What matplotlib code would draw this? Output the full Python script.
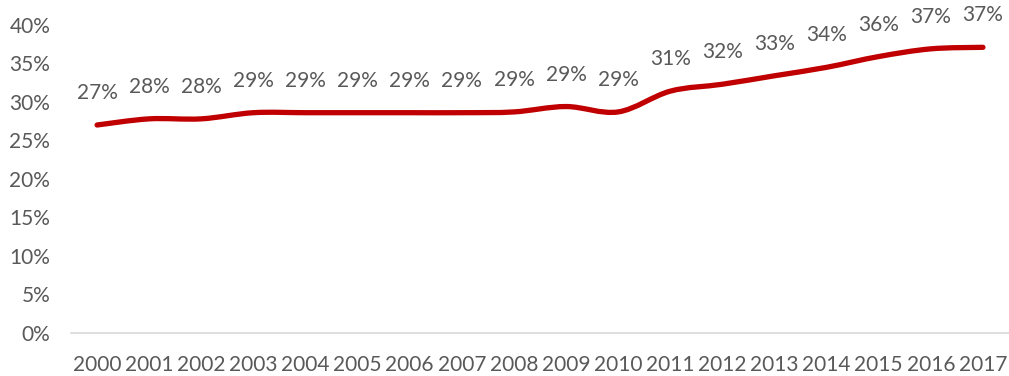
import numpy as np
import matplotlib
matplotlib.use("Agg")
from matplotlib import pyplot as plt
from matplotlib.path import Path
from matplotlib.patches import PathPatch

years = list(range(2000, 2018))
share = [27.0, 27.8, 27.8, 28.6, 28.6, 28.6, 28.6, 28.6, 28.7,
         29.4, 28.7, 31.4, 32.3, 33.4, 34.5, 35.9, 36.9, 37.1]
y_ticks = [0, 5, 10, 15, 20, 25, 30, 35, 40]

red = "#C00000"
grey = "#595959"

plt.rcParams["font.family"] = ["Lato", "DejaVu Sans"]


# smooth curve through the points (cubic bezier, catmull-rom style handles)
def smooth_path(xs, ys, k=1.0 / 6):
    pts = np.column_stack([xs, ys]).astype(float)
    n = len(pts)
    verts = [pts[0]]
    codes = [Path.MOVETO]
    for i in range(n - 1):
        p0 = pts[max(i - 1, 0)]
        p1 = pts[i]
        p2 = pts[i + 1]
        p3 = pts[min(i + 2, n - 1)]
        c1 = p1 + (p2 - p0) * k
        c2 = p2 - (p3 - p1) * k
        verts += [c1, c2, p2]
        codes += [Path.CURVE4] * 3
    return Path(verts, codes)


fig = plt.figure(figsize=(10.09, 3.76), dpi=100)
ax = fig.add_axes([0.0704, 0.1152, 0.9296, 0.8183])

x = np.arange(len(years))
ax.add_patch(PathPatch(smooth_path(x, share), facecolor="none", edgecolor=red,
                       lw=3.8, capstyle="round", joinstyle="round"))

for xi, v in zip(x, share):
    ax.annotate("%d%%" % round(v), (xi, v), xytext=(0, 23),
                textcoords="offset points", ha="center", va="center",
                fontsize=15, color=grey)

ax.set_xlim(-0.5, len(years) - 0.5)
ax.set_ylim(0, 40)
ax.set_xticks(x)
ax.set_xticklabels([str(y) for y in years])
ax.set_yticks(y_ticks)
ax.set_yticklabels(["%d%%" % t for t in y_ticks])
ax.tick_params(axis="both", length=0, labelsize=15, colors=grey)
ax.tick_params(axis="x", pad=16)
ax.tick_params(axis="y", pad=15)

for side in ["top", "right", "left"]:
    ax.spines[side].set_visible(False)
ax.spines["bottom"].set_color("#d9d9d9")
ax.spines["bottom"].set_linewidth(1.2)

fig.savefig("out.png", dpi=100)
